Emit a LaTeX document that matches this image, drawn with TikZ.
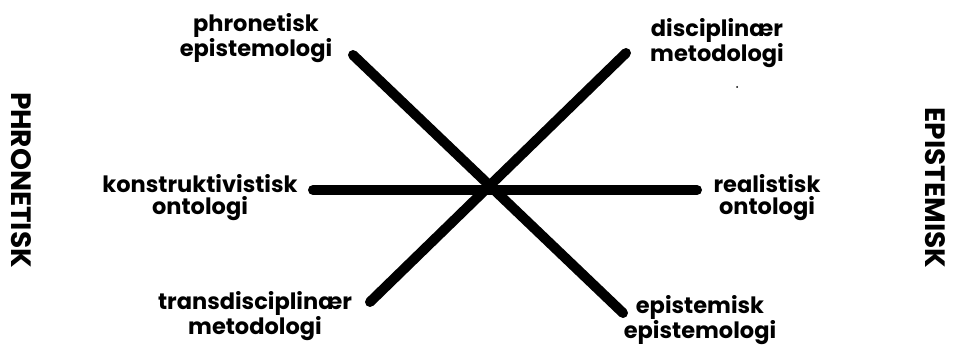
\documentclass[tikz,border=0pt]{standalone}
\usepackage{fontspec}
\setmainfont{Poppins}
\begin{document}
\begin{tikzpicture}[x=1pt,y=-1pt,
  bar/.style={line width=10pt,line cap=round},
  lbl/.style={font=\fontsize{22.5}{22}\selectfont\bfseries,align=center,inner sep=0pt},
  side/.style={font=\fontsize{28}{30}\selectfont\bfseries,inner sep=0pt,rotate=-90}]
\useasboundingbox (0,0) rectangle (953,347);
\coordinate (a1) at (353,55);
\coordinate (a2) at (623,313);
\coordinate (b1) at (626,53);
\coordinate (b2) at (370,302);
\coordinate (c1) at (313,190);
\coordinate (c2) at (697,190);
\draw[bar] (a1) -- (a2);
\draw[bar] (b1) -- (b2);
\draw[bar] (c1) -- (c2);
\node[lbl] (pe) at (256,38) {phronetisk\\epistemologi};
\node[lbl] (dm) at (717,43) {disciplinær\\metodologi};
\node[lbl] (ko) at (200,198) {konstruktivistisk\\ontologi};
\node[lbl] (ro) at (767,198) {realistisk\\ontologi};
\node[lbl] (tm) at (255,316) {transdisciplinær\\metodologi};
\node[lbl] (ee) at (700,320) {epistemisk\\epistemologi};
\node[side] (ph) at (21,180) {PHRONETISK};
\node[side] (ep) at (935,188) {EPISTEMISK};
\fill (737,87) circle (1pt);
\end{tikzpicture}
\end{document}
